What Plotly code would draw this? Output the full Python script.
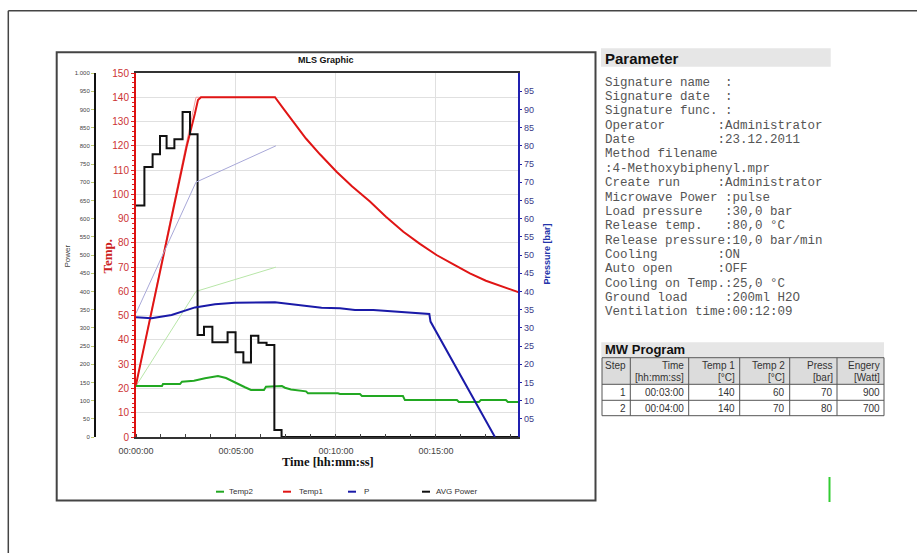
import plotly.graph_objects as go

W, H = 917, 553

# ---------------- data (time in minutes) ----------------
temp1_t = [0, 1.33, 2.53, 2.95, 3.1, 3.25, 6.95, 7.4, 7.87, 8.5, 9.2, 10.03, 10.8, 11.7, 12.5, 13.37,
           14.2, 15.03, 15.9, 16.7, 17.5, 18.37, 19.12]
temp1_v = [21.5, 72.9, 119.6, 133.4, 138.9, 140, 140, 135, 129.9, 123, 116.5, 109.3, 103.3, 97, 90.8, 84.6,
           79.6, 75, 71, 67.4, 64.4, 61.9, 59.7]

temp2_t = [0, 1.3, 1.35, 2.2, 2.3, 2.9, 3.45, 4.1, 4.5, 4.95, 5.45, 5.75, 6.4, 6.5, 7.3, 7.45,
           7.75, 8.5, 8.6, 10.1, 10.2, 11.2, 11.3, 13.35, 13.45, 16.05, 16.15, 17.15, 17.25, 18.5, 18.6, 19.12]
temp2_v = [21, 21, 21.8, 21.8, 22.8, 23.2, 24.2, 25.1, 24.3, 22.4, 20.5, 19.4, 19.4, 20.7, 21.0, 20.3,
           19.6, 18.8, 18.0, 18.0, 17.7, 17.7, 16.9, 16.9, 15.2, 15.2, 14.4, 14.4, 15.2, 15.2, 14.4, 14.4]

press_t = [0, 0.78, 1.78, 2.95, 3.95, 4.95, 6.95, 7.95, 9.28, 10.2, 10.95, 11.87, 13.53, 14.67, 14.73, 17.87, 17.95]
press_v = [32.9, 32.6, 33.5, 35.6, 36.5, 36.9, 37.0, 36.3, 35.5, 35.4, 34.9, 34.9, 34.2, 33.8, 31.7, 0.5, 0]

power_t = [0, 0.42, 0.83, 1.2, 1.53, 1.92, 2.33, 2.7, 3.08, 3.4, 3.82, 4.58, 4.98, 5.37, 5.75, 6.12, 6.53, 6.92, 7.28, 19.12]
power_v = [636, 742, 777, 827, 793, 818, 893, 832, 280, 303, 260, 288, 233, 205, 278, 259, 253, 19, 0, 0]

# program set-point ramps
sp_t = [0, 3, 7]
sp_temp1 = [21.5, 140, 140]
sp_temp2 = [21, 60, 70]
sp_press = [34, 70, 80]

time_ticks = [0, 5, 10, 15]
temp_ticks = list(range(0, 151, 10))
power_ticks = list(range(0, 1001, 50))
press_ticks = list(range(5, 100, 5))

param_lines = [
    "Signature name  :",
    "Signature date  :",
    "Signature func. :",
    "Operator       :Administrator",
    "Date           :23.12.2011",
    "Method filename",
    ":4-Methoxybiphenyl.mpr",
    "Create run     :Administrator",
    "Microwave Power :pulse",
    "Load pressure   :30,0 bar",
    "Release temp.   :80,0 °C",
    "Release pressure:10,0 bar/min",
    "Cooling        :ON",
    "Auto open      :OFF",
    "Cooling on Temp.:25,0 °C",
    "Ground load     :200ml H2O",
    "Ventilation time:00:12:09",
]

tbl_header1 = ["Step", "Time", "Temp 1", "Temp 2", "Press", "Engery"]
tbl_header2 = ["", "[hh:mm:ss]", "[°C]", "[°C]", "[bar]", "[Watt]"]
tbl_step = ["1", "2"]
tbl_time = ["00:03:00", "00:04:00"]
tbl_temp1 = ["140", "140"]
tbl_temp2 = ["60", "70"]
tbl_press = ["70", "80"]
tbl_energy = ["900", "700"]

legend_items = [("Temp2", "#22a822", 216, 227), ("Temp1", "#e01515", 283, 297),
                ("P", "#1a1aa8", 348, 362), ("AVG Power", "#111111", 422, 434)]

# ---------------- helpers ----------------
def px(x):
    return x / W

def py(y):
    return 1 - y / H

SANS = "Liberation Sans, Arial, sans-serif"
SERIF = "Liberation Serif, Times New Roman, serif"
MONO = "Liberation Mono, Courier New, monospace"

fig = go.Figure()

# set-point ramps
fig.add_trace(go.Scatter(x=sp_t, y=sp_temp2, mode="lines", line=dict(color="#b8e6a8", width=1), yaxis="y", showlegend=False))
fig.add_trace(go.Scatter(x=sp_t, y=sp_press, mode="lines", line=dict(color="#a8a8d8", width=1), yaxis="y3", showlegend=False))
fig.add_trace(go.Scatter(x=sp_t, y=sp_temp1, mode="lines", line=dict(color="#f0a0a0", width=1), yaxis="y", showlegend=False))

# measured curves
fig.add_trace(go.Scatter(x=temp2_t, y=temp2_v, mode="lines", name="Temp2", line=dict(color="#22a822", width=2), yaxis="y"))
fig.add_trace(go.Scatter(x=power_t, y=power_v, mode="lines", name="AVG Power", line=dict(color="#111111", width=2, shape="hv"), yaxis="y2"))
fig.add_trace(go.Scatter(x=press_t, y=press_v, mode="lines", name="P", line=dict(color="#1a1aa8", width=2), yaxis="y3"))
fig.add_trace(go.Scatter(x=temp1_t, y=temp1_v, mode="lines", name="Temp1", line=dict(color="#e01515", width=2), yaxis="y"))

x0, x1 = 136, 518.3
y_top, y_bot = 73, 437

fig.update_layout(
    width=W, height=H, autosize=False,
    margin=dict(l=0, r=0, t=0, b=0, pad=0, autoexpand=False),
    paper_bgcolor="white", plot_bgcolor="white",
    showlegend=False,
    font=dict(family=SANS, size=9, color="#444"),
    xaxis=dict(domain=[px(x0), px(x1)], range=[0, 19.12],
               tickmode="array", tickvals=time_ticks,
               ticktext=["00:%02d:00" % m for m in time_ticks],
               tickfont=dict(family=SANS, size=9, color="#444"),
               ticks="", ticklabelstandoff=4,
               showgrid=True, gridcolor="#e0e0e0", gridwidth=1,
               showline=True, linecolor="#333", linewidth=2, mirror=True,
               zeroline=False,
               minor=dict(tickmode="linear", tick0=0, dtick=1.25, ticks="inside",
                          ticklen=3, tickcolor="#444", showgrid=False)),
    yaxis=dict(domain=[py(y_bot), py(y_top)], range=[0, 150],
               tickmode="array", tickvals=temp_ticks,
               tickfont=dict(family=SANS, size=10, color="#cc3333"),
               ticks="outside", ticklen=3, tickcolor="#dd2222",
               showgrid=True, gridcolor="#e0e0e0", gridwidth=1,
               showline=True, linecolor="#dd1111", linewidth=2,
               zeroline=False, anchor="x", side="left",
               minor=dict(tickmode="linear", tick0=0, dtick=2, ticks="outside",
                          ticklen=2, tickcolor="#dd2222", showgrid=False)),
    yaxis2=dict(overlaying="y", anchor="free", position=px(95), side="left",
                range=[0, 1000], tickmode="array", tickvals=power_ticks,
                ticktext=["1.000" if v == 1000 else str(v) for v in power_ticks],
                tickfont=dict(family=SANS, size=6, color="#444"),
                ticks="outside", ticklen=3, tickcolor="#c0c870",
                showgrid=False, zeroline=False,
                showline=True, linecolor="#111", linewidth=2),
    yaxis3=dict(overlaying="y", anchor="x", side="right",
                range=[0, 100], tickmode="array", tickvals=press_ticks,
                ticktext=["%02d" % v for v in press_ticks],
                tickfont=dict(family=SANS, size=9, color="#3a3a88"),
                ticks="outside", ticklen=2, tickcolor="#2222aa",
                showgrid=False, zeroline=False,
                showline=True, linecolor="#2020b0", linewidth=2),
)

shapes = []
def line(xa, ya, xb, yb, color, width):
    shapes.append(dict(type="line", xref="paper", yref="paper", x0=px(xa), y0=py(ya), x1=px(xb), y1=py(yb),
                       line=dict(color=color, width=width)))

def rect(xa, ya, xb, yb, fill, lcolor=None, lwidth=0):
    shapes.append(dict(type="rect", xref="paper", yref="paper", x0=px(xa), y0=py(yb), x1=px(xb), y1=py(ya),
                       line=dict(color=lcolor or fill, width=lwidth), fillcolor=fill, layer="below"))

# outer frame (top and left)
line(8.3, 10.7, 917, 10.7, "#444", 1.5)
line(8.3, 10.7, 8.3, 553, "#444", 1.5)
# chart box
shapes.append(dict(type="rect", xref="paper", yref="paper", x0=px(56.7), y0=py(500.5), x1=px(595.5), y1=py(52.3),
                   line=dict(color="#444", width=2), layer="below"))
# heading backgrounds
rect(601, 48.3, 830.7, 66.7, "#e6e6e6")
rect(601.3, 342.3, 884, 357, "#e6e6e6")
# small green mark
line(829.5, 477, 829.5, 502, "#33cc33", 2)
# legend dashes
for name, col, dx, tx in legend_items:
    line(dx, 491.7, dx + 8, 491.7, col, 2)

# MW program table grid
col_edges = [602, 630.3, 688.7, 739.7, 789.7, 837, 884]
row_edges = [357.7, 384.3, 400.3, 415.7]
rect(col_edges[0], row_edges[0], col_edges[-1], row_edges[1], "#dcdcdc")
for xe in col_edges:
    line(xe, row_edges[0], xe, row_edges[-1], "#555", 1)
for ye in row_edges:
    line(col_edges[0], ye, col_edges[-1], ye, "#555", 1)

annotations = []
def ann(text, x, y, size, color, family=SANS, xanchor="center", angle=0):
    annotations.append(dict(text=text, x=px(x), y=py(y), xref="paper", yref="paper",
                            xanchor=xanchor, yanchor="middle", showarrow=False, textangle=angle,
                            font=dict(family=family, size=size, color=color)))

ann("<b>MLS Graphic</b>", 325.5, 60, 9, "#111")
ann("Power", 67.5, 256, 8, "#444", angle=-90)
ann("<b>Temp.</b>", 107.5, 256, 13, "#cc2222", family=SERIF, angle=-90)
ann("<b>Pressure [bar]</b>", 546.5, 254, 9, "#2233aa", angle=-90)
ann("<b>Time [hh:mm:ss]</b>", 327.5, 461.7, 12.5, "#111", family=SERIF)
for name, col, dx, tx in legend_items:
    ann(name, tx, 491.7, 8, "#333", xanchor="left")

ann("<b>Parameter</b>", 603, 58.3, 15, "#111", xanchor="left")
for i, txt in enumerate(param_lines):
    ann(txt.replace(" ", "\u00a0"), 603, 82.7 + i * 14.35, 12.5, "#555", family=MONO, xanchor="left")
ann("<b>MW Program</b>", 603, 349.5, 13, "#111", xanchor="left")

# table text (right aligned in each column)
columns = [tbl_step, tbl_time, tbl_temp1, tbl_temp2, tbl_press, tbl_energy]
for c in range(6):
    xr = col_edges[c + 1] - 2.5
    ann(tbl_header1[c], xr, 365.5, 10, "#333", xanchor="right")
    if tbl_header2[c]:
        ann(tbl_header2[c], xr, 377, 10, "#333", xanchor="right")
    for r, yc in enumerate([392.3, 408]):
        ann(columns[c][r], xr, yc, 10, "#333", xanchor="right")

fig.update_layout(shapes=shapes, annotations=annotations)

fig.write_html("out.html")
